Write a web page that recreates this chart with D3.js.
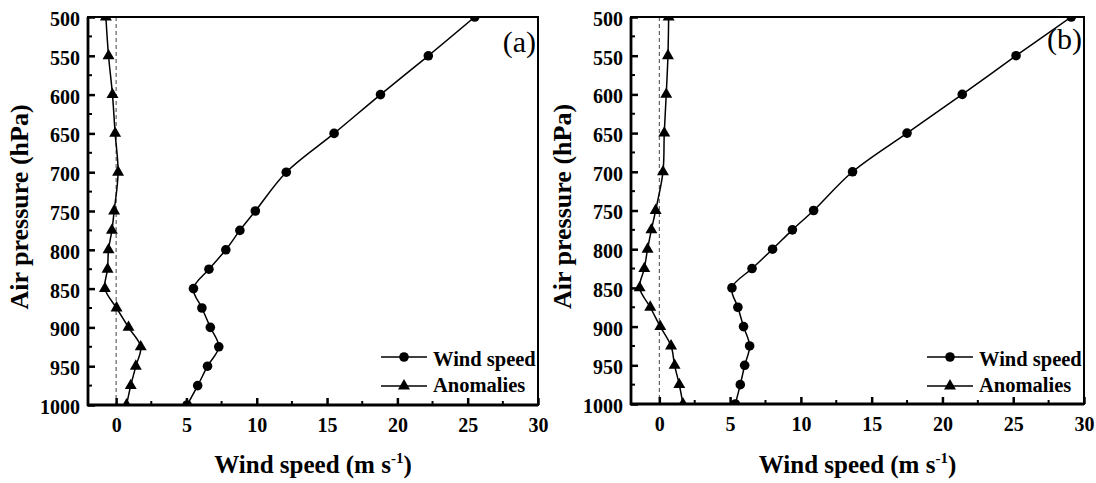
<!DOCTYPE html>
<html>
<head>
<meta charset="utf-8">
<script src="https://cdn.jsdelivr.net/npm/d3@7"></script>
<style>
  body { margin: 0; background: #fff; }
  text { font-family: "Liberation Serif", "Times New Roman", serif; }
</style>
</head>
<body>
<div id="chart"></div>
<script>
// pressure levels (hPa)
var levels = [500, 550, 600, 650, 700, 750, 775, 800, 825, 850, 875, 900, 925, 950, 975, 1000];

// panel (a)
var windA = [25.5, 22.2, 18.8, 15.5, 12.1, 9.9, 8.8, 7.8, 6.6, 5.5, 6.1, 6.7, 7.3, 6.5, 5.8, 5.05];
var anomA = [-0.73, -0.54, -0.26, -0.07, 0.14, -0.14, -0.3, -0.54, -0.61, -0.8, 0.03, 0.88, 1.75, 1.4, 1.04, 0.74];

// panel (b)
var windB = [29.1, 25.2, 21.4, 17.5, 13.65, 10.9, 9.4, 8.0, 6.55, 5.13, 5.55, 5.95, 6.38, 6.03, 5.72, 5.37];
var anomB = [0.66, 0.61, 0.49, 0.35, 0.26, -0.26, -0.56, -0.83, -1.06, -1.39, -0.64, 0.07, 0.83, 1.08, 1.41, 1.67];

var xTicks = [0, 5, 10, 15, 20, 25, 30];
var xMinor = [2.5, 7.5, 12.5, 17.5, 22.5, 27.5];
var yTicks = [500, 550, 600, 650, 700, 750, 800, 850, 900, 950, 1000];
var yMinor = [525, 575, 625, 675, 725, 775, 825, 875, 925, 975];
var seriesNames = ["Wind speed", "Anomalies"];

var W = 1096, H = 483;
var svg = d3.select("#chart").append("svg")
  .attr("width", W).attr("height", H);

var serif = '"Liberation Serif", "Times New Roman", serif';

function drawPanel(id, left, right, top, bottom, wind, anom, label, labelY) {
  var x = d3.scaleLinear().domain([-2, 30]).range([left, right]);
  var y = d3.scaleLinear().domain([500, 1000]).range([top, bottom]);
  var g = svg.append("g");

  g.append("clipPath").attr("id", "clip" + id)
    .append("rect")
      .attr("x", left).attr("y", top)
      .attr("width", right - left).attr("height", bottom - top);

  // zero reference line
  g.append("line")
    .attr("x1", x(0)).attr("x2", x(0))
    .attr("y1", top).attr("y2", bottom)
    .attr("stroke", "#444").attr("stroke-width", 1)
    .attr("stroke-dasharray", "4,3");

  var plot = g.append("g").attr("clip-path", "url(#clip" + id + ")");

  var line = d3.line()
    .curve(d3.curveCatmullRom.alpha(0.5))
    .x(function(d) { return x(d[0]); })
    .y(function(d) { return y(d[1]); });

  var windPts = levels.map(function(p, i) { return [wind[i], p]; });
  var anomPts = levels.map(function(p, i) { return [anom[i], p]; });

  plot.append("path").datum(windPts)
    .attr("fill", "none").attr("stroke", "#000").attr("stroke-width", 1.5)
    .attr("d", line);
  plot.append("path").datum(anomPts)
    .attr("fill", "none").attr("stroke", "#000").attr("stroke-width", 1.5)
    .attr("d", line);

  plot.selectAll(".dot").data(windPts).enter()
    .append("circle")
      .attr("cx", function(d) { return x(d[0]); })
      .attr("cy", function(d) { return y(d[1]); })
      .attr("r", 4.8).attr("fill", "#000");

  var tri = d3.symbol().type(d3.symbolTriangle).size(62);
  plot.selectAll(".tri").data(anomPts).enter()
    .append("path")
      .attr("transform", function(d) { return "translate(" + x(d[0]) + "," + y(d[1]) + ")"; })
      .attr("d", tri).attr("fill", "#000");

  // axes, ticks pointing inward
  var xAxis = d3.axisBottom(x).tickValues(xTicks).tickSize(-7).tickPadding(13).tickFormat(d3.format("d"));
  var yAxis = d3.axisLeft(y).tickValues(yTicks).tickSize(-7).tickPadding(8).tickFormat(d3.format("d"));

  var gx = g.append("g").attr("transform", "translate(0," + bottom + ")").call(xAxis);
  var gy = g.append("g").attr("transform", "translate(" + left + ",0)").call(yAxis);
  [gx, gy].forEach(function(a) {
    a.attr("font-family", null).attr("font-size", null);
    a.select(".domain").remove();
    a.selectAll("line").attr("stroke", "#000").attr("stroke-width", 2.5);
    a.selectAll("text")
      .attr("fill", "#000")
      .style("font-family", serif)
      .style("font-size", "20px").style("font-weight", "bold");
  });
  gx.selectAll("text").attr("dy", "0.71em");
  gy.selectAll("text").attr("dy", "0.42em");

  // minor ticks
  g.selectAll(".mx").data(xMinor).enter().append("line")
    .attr("x1", function(d) { return x(d); }).attr("x2", function(d) { return x(d); })
    .attr("y1", bottom).attr("y2", bottom - 4)
    .attr("stroke", "#000").attr("stroke-width", 2);
  g.selectAll(".my").data(yMinor).enter().append("line")
    .attr("y1", function(d) { return y(d); }).attr("y2", function(d) { return y(d); })
    .attr("x1", left).attr("x2", left + 4)
    .attr("stroke", "#000").attr("stroke-width", 2);

  // frame
  g.append("rect")
    .attr("x", left).attr("y", top)
    .attr("width", right - left).attr("height", bottom - top)
    .attr("fill", "none").attr("stroke", "#000").attr("stroke-width", 2);
  g.append("line").attr("x1", left).attr("x2", left).attr("y1", top).attr("y2", bottom + 1)
    .attr("stroke", "#000").attr("stroke-width", 2.8);
  g.append("line").attr("x1", left - 1).attr("x2", right).attr("y1", bottom).attr("y2", bottom)
    .attr("stroke", "#000").attr("stroke-width", 2.8);

  // panel label
  g.append("text")
    .attr("x", right - 2).attr("y", labelY)
    .attr("text-anchor", "end")
    .style("font-size", "30px")
    .text(label);

  // axis titles
  var xt = g.append("text")
    .attr("x", (left + right) / 2).attr("y", 473)
    .attr("text-anchor", "middle")
    .style("font-size", "25px").style("font-weight", "bold");
  xt.append("tspan").text("Wind speed (m s");
  xt.append("tspan").attr("dy", -10).style("font-size", "15px").text("-1");
  xt.append("tspan").attr("dy", 10).text(")");

  g.append("text")
    .attr("transform", "translate(" + (left - 60) + "," + ((top + bottom) / 2 - 4) + ") rotate(-90)")
    .attr("text-anchor", "middle")
    .style("font-size", "26px").style("font-weight", "bold")
    .text("Air pressure (hPa)");

  // legend
  var lx0 = right - 157, lx1 = right - 111;
  var rows = [357, 386];
  rows.forEach(function(ly, i) {
    g.append("line").attr("x1", lx0).attr("x2", lx1).attr("y1", ly).attr("y2", ly)
      .attr("stroke", "#000").attr("stroke-width", 1.5);
    if (i === 0) {
      g.append("circle").attr("cx", (lx0 + lx1) / 2).attr("cy", ly).attr("r", 4.8).attr("fill", "#000");
    } else {
      g.append("path").attr("transform", "translate(" + ((lx0 + lx1) / 2) + "," + ly + ")")
        .attr("d", tri).attr("fill", "#000");
    }
    g.append("text")
      .attr("x", lx1 + 6).attr("y", ly + (i === 0 ? 2 : -1)).attr("dy", "0.35em")
      .style("font-size", "20.5px").style("font-weight", "bold")
      .text(seriesNames[i]);
  });
}

drawPanel("a", 88, 538, 17, 405, windA, anomA, "(a)", 52);
drawPanel("b", 631, 1084, 17, 404, windB, anomB, "(b)", 49);
</script>
</body>
</html>
